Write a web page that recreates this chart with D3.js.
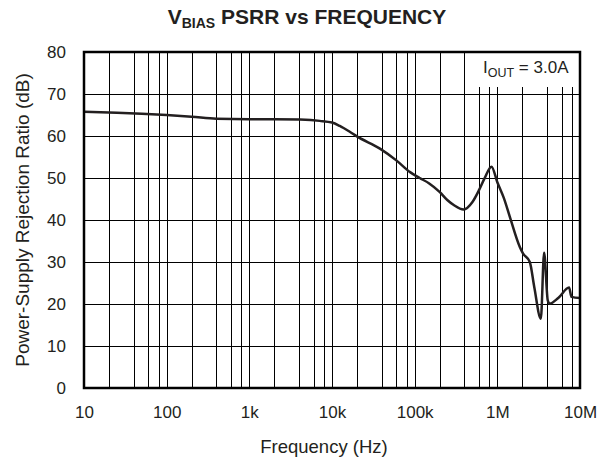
<!DOCTYPE html>
<html>
<head>
<meta charset="utf-8">
<script src="https://cdn.jsdelivr.net/npm/d3@7"></script>
<style>
  body { margin: 0; background: #fff; }
  text { font-family: "Liberation Sans", Arial, sans-serif; fill: #231f20; }
</style>
</head>
<body>
<div id="chart"></div>
<script>
// data
var freqs = [10, 20, 50, 100, 200, 400, 1e3, 2e3, 4.1e3, 7.1e3, 1e4, 1.24e4, 1.64e4, 2e4, 3.8e4, 6e4, 8.8e4, 1.15e5, 1.5e5, 2e5, 2.5e5, 3e5, 3.9e5, 5e5, 6e5, 7e5, 8.5e5, 1e6, 1.2e6, 1.42e6, 1.87e6, 2.05e6, 2.47e6, 2.8e6, 3.36e6, 3.68e6, 4.08e6, 4.31e6, 5.5e6, 7.38e6, 7.89e6, 1e7];
var psrr = [65.8, 65.6, 65.3, 65.0, 64.6, 64.1, 64.0, 64.0, 63.9, 63.6, 63.2, 62.4, 61.0, 59.9, 57.0, 54.2, 51.4, 50.0, 48.7, 46.7, 44.7, 43.5, 42.5, 44.3, 47.1, 49.9, 52.7, 49.0, 45.2, 40.7, 33.6, 32.0, 30.0, 24.0, 16.5, 32.2, 20.8, 20.1, 21.5, 23.9, 21.7, 21.4];
var xTicks = [10, 100, 1e3, 1e4, 1e5, 1e6, 1e7];
var xTickLabels = ["10", "100", "1k", "10k", "100k", "1M", "10M"];
var yTicks = [0, 10, 20, 30, 40, 50, 60, 70, 80];

var svgWidth = 608;
var svgHeight = 462;
var margin = { top: 52, right: 28, bottom: 74, left: 84 };
var width = svgWidth - margin.left - margin.right;
var height = svgHeight - margin.top - margin.bottom;

var svg = d3.select("#chart").append("svg")
  .attr("width", svgWidth)
  .attr("height", svgHeight);

var g = svg.append("g")
  .attr("transform", `translate(${margin.left}, ${margin.top})`);

var x = d3.scaleLog().domain([10, 1e7]).range([0, width]);
var y = d3.scaleLinear().domain([0, 80]).range([height, 0]);

// grid: decades plus 2,4,6,8 inside each decade
var gridF = [];
for (var d = 10; d < 1e7; d *= 10) {
  [1, 2, 4, 6, 8].forEach(function(m) { gridF.push(d * m); });
}
gridF.push(1e7);

g.selectAll(".vgrid").data(gridF).enter().append("line")
  .attr("x1", f => Math.round(x(f)) + 0.5)
  .attr("x2", f => Math.round(x(f)) + 0.5)
  .attr("y1", 0).attr("y2", height)
  .attr("stroke", "#000").attr("stroke-width", 1);

g.selectAll(".hgrid").data(yTicks).enter().append("line")
  .attr("x1", 0).attr("x2", width)
  .attr("y1", v => Math.round(y(v)) + 0.5)
  .attr("y2", v => Math.round(y(v)) + 0.5)
  .attr("stroke", "#000").attr("stroke-width", 1);

// annotation box hides the grid
var boxX = 395;
g.append("rect")
  .attr("x", boxX).attr("y", 0)
  .attr("width", width - boxX).attr("height", 35)
  .attr("fill", "#fff");

var line = d3.line()
  .x(f => x(f))
  .y((f, i) => y(psrr[i]))
  .curve(d3.curveMonotoneX);

g.append("path")
  .datum(freqs)
  .attr("d", line)
  .attr("fill", "none")
  .attr("stroke", "#231f20")
  .attr("stroke-width", 2.5)
  .attr("stroke-linejoin", "round");

// frame
g.append("rect")
  .attr("x", 0).attr("y", 0)
  .attr("width", width).attr("height", height)
  .attr("fill", "none")
  .attr("stroke", "#000")
  .attr("stroke-width", 2.5);

// tick labels
var xAxis = d3.axisBottom(x).tickValues(xTicks)
  .tickFormat((d, i) => xTickLabels[i]).tickSize(0).tickPadding(18);
var xg = g.append("g").attr("transform", `translate(0, ${height})`).call(xAxis);
xg.select(".domain").remove();
xg.selectAll("text").attr("font-size", 17).style("font-family", "Liberation Sans, Arial, sans-serif").attr("fill", "#231f20");

var yAxis = d3.axisLeft(y).tickValues(yTicks).tickSize(0).tickPadding(18);
var yg = g.append("g").call(yAxis);
yg.select(".domain").remove();
yg.selectAll("text").attr("font-size", 17).style("font-family", "Liberation Sans, Arial, sans-serif").attr("fill", "#231f20");

// annotation
var ann = g.append("text").attr("x", boxX + 4).attr("y", 21).attr("font-size", 17);
ann.append("tspan").text("I");
ann.append("tspan").attr("font-size", 12.5).attr("dy", 4).text("OUT");
ann.append("tspan").attr("dy", -4).text(" = 3.0A");

// titles
var title = svg.append("text")
  .attr("x", 307).attr("y", 24)
  .attr("text-anchor", "middle")
  .attr("font-size", 21).attr("font-weight", "bold");
title.append("tspan").text("V");
title.append("tspan").attr("font-size", 14).attr("dy", 4).text("BIAS");
title.append("tspan").attr("dy", -4).text(" PSRR vs FREQUENCY");

svg.append("text")
  .attr("x", 324).attr("y", 453)
  .attr("text-anchor", "middle")
  .attr("font-size", 18.5)
  .text("Frequency (Hz)");

svg.append("text")
  .attr("transform", `translate(29, 220) rotate(-90)`)
  .attr("text-anchor", "middle")
  .attr("font-size", 19)
  .text("Power-Supply Rejection Ratio (dB)");
</script>
</body>
</html>
